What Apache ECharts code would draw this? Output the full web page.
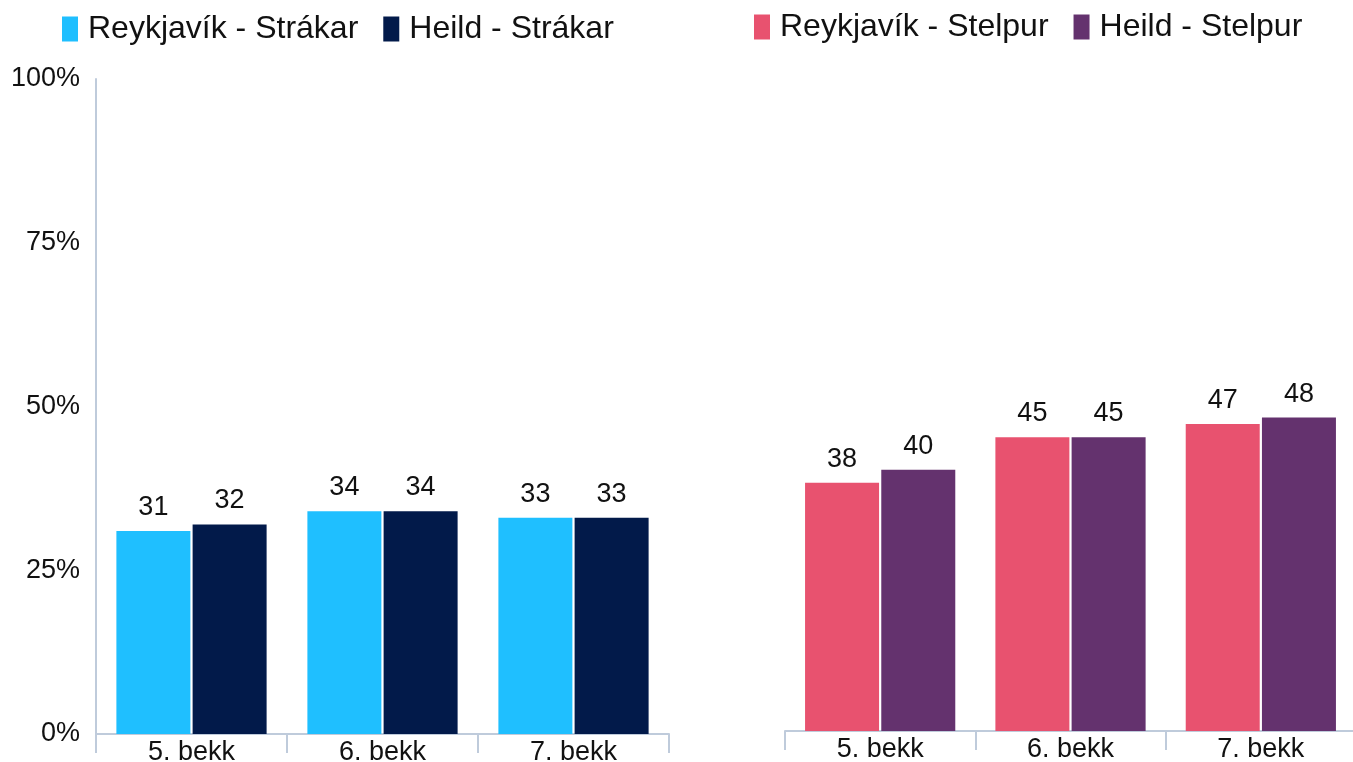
<!DOCTYPE html>
<html>
<head>
<meta charset="utf-8">
<script src="https://cdn.jsdelivr.net/npm/echarts@6/dist/echarts.min.js"></script>
<style>
  html, body { margin: 0; padding: 0; background: #fff; }
  #chart { width: 1353px; height: 762px; }
</style>
</head>
<body>
<div id="chart"></div>
<script>
const categories = ['5. bekk', '6. bekk', '7. bekk'];
const yTicks = [0, 25, 50, 75, 100];

const reykjavikBoys = [31, 34, 33];
const totalBoys = [32, 34, 33];
const reykjavikGirls = [38, 45, 47];
const totalGirls = [40, 45, 48];

const names = ['Reykjavík - Strákar', 'Heild - Strákar', 'Reykjavík - Stelpur', 'Heild - Stelpur'];
const colors = ['#1fbfff', '#021a4a', '#e8526f', '#64326e'];

const FONT = '"Liberation Sans", Arial, sans-serif';
const axisColor = '#bfcbdb';

const xAxisBase = (gridIndex) => ({
    type: 'category',
    gridIndex,
    data: categories,
    axisLine: { lineStyle: { color: axisColor, width: 2 } },
    axisTick: { show: true, length: 19, lineStyle: { color: axisColor, width: 2 } },
    axisLabel: { color: '#111', fontSize: 27, fontFamily: FONT, margin: 5 },
});

const yAxisBase = (gridIndex, visible) => ({
    type: 'value',
    gridIndex,
    min: yTicks[0],
    max: yTicks[yTicks.length - 1],
    interval: 25,
    splitLine: { show: false },
    axisTick: { show: false },
    axisLine: { show: visible, lineStyle: { color: axisColor, width: 2 } },
    axisLabel: {
        show: visible, color: '#111', fontSize: 27, fontFamily: FONT, margin: 16,
        formatter: '{value}%',
    },
});

const barSeries = (i, data, axisIndex) => ({
    name: names[i],
    type: 'bar',
    xAxisIndex: axisIndex,
    yAxisIndex: axisIndex,
    data,
    barWidth: 74,
    barGap: '3%',
    itemStyle: { color: colors[i] },
    label: {
        show: true, position: 'top', distance: 10,
        color: '#111', fontSize: 27, fontFamily: FONT,
    },
});

const legendBase = {
    icon: 'rect',
    itemWidth: 16,
    itemHeight: 25,
    itemGap: 25,
    textStyle: { fontSize: 32, fontFamily: FONT, color: '#111', padding: [0, 0, 0, 5] },
};

const chart = echarts.init(document.getElementById('chart'));
chart.setOption({
    animation: false,
    backgroundColor: '#fff',
    color: colors,
    legend: [
        Object.assign({}, legendBase, { left: 57, top: 8, data: names.slice(0, 2) }),
        Object.assign({}, legendBase, { left: 749, top: 6, data: names.slice(2) }),
    ],
    grid: [
        { left: 96, top: 79, width: 573, height: 655, outerBoundsMode: 'none' },
        { left: 785, top: 78, width: 571, height: 653, outerBoundsMode: 'none' },
    ],
    xAxis: [xAxisBase(0), xAxisBase(1)],
    yAxis: [yAxisBase(0, true), yAxisBase(1, false)],
    series: [
        barSeries(0, reykjavikBoys, 0),
        barSeries(1, totalBoys, 0),
        barSeries(2, reykjavikGirls, 1),
        barSeries(3, totalGirls, 1),
    ],
});
</script>
</body>
</html>
